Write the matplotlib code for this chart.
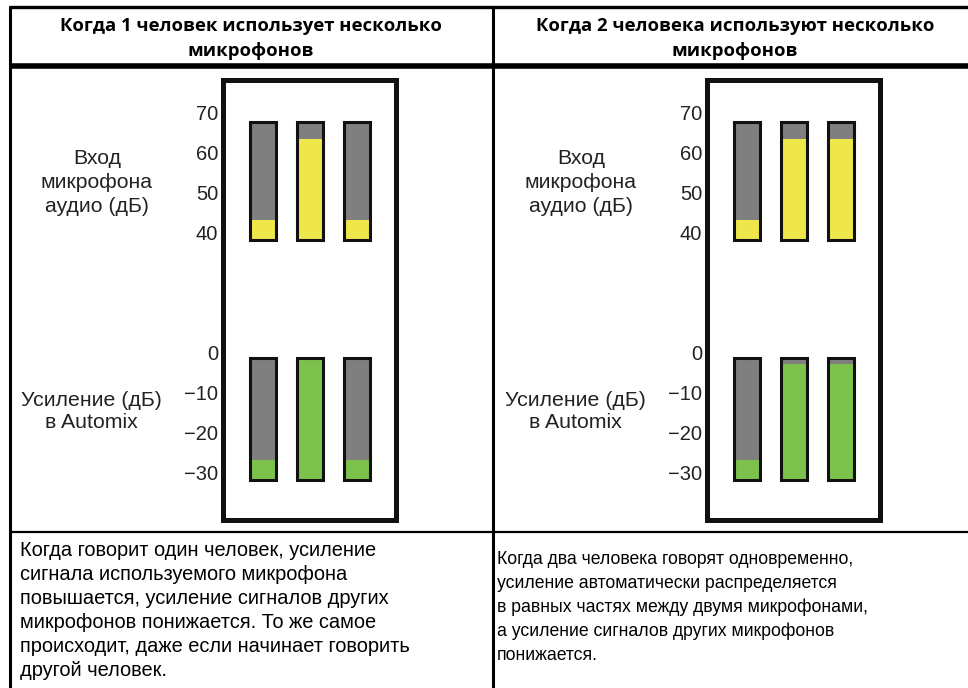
import matplotlib.pyplot as plt
from matplotlib.lines import Line2D
from matplotlib.patches import Rectangle

W, H = 968, 688

# текст таблицы
headers = ["Когда 1 человек использует несколько\nмикрофонов",
           "Когда 2 человека используют несколько\nмикрофонов"]
notes = [["Когда говорит один человек, усиление",
          "сигнала используемого микрофона",
          "повышается, усиление сигналов других",
          "микрофонов понижается. То же самое",
          "происходит, даже если начинает говорить",
          "другой человек."],
         ["Когда два человека говорят одновременно,",
          "усиление автоматически распределяется",
          "в равных частях между двумя микрофонами,",
          "а усиление сигналов других микрофонов",
          "понижается."]]
input_label = "Вход\nмикрофона\nаудио (дБ)"
gain_label = "Усиление (дБ)\nв Automix"

# шкалы индикаторов
input_ticks = [40, 50, 60, 70]
gain_ticks = [0, -10, -20, -30]
input_range = (38.1, 67.6)
gain_range = (-31.9, -1.6)

# уровни на трёх микрофонах
input_levels = [[43, 63.3, 43], [43, 63.3, 63.3]]
gain_levels = [[-27, 0, -27], [-27, -3, -3]]

GRAY = '#7f7f7f'
YELLOW = '#efe64b'
GREEN = '#7cc14b'
FONT = ['Liberation Sans', 'DejaVu Sans']

fig = plt.figure(figsize=(W / 100, H / 100), dpi=100)
fig.patch.set_facecolor('white')

# служебные оси во всю фигуру, координаты в пикселях
bg = fig.add_axes([0, 0, 1, 1])
bg.set_xlim(0, W)
bg.set_ylim(H, 0)
bg.axis('off')


def hline(y, x0, x1, lw):
    bg.add_line(Line2D([x0, x1], [y, y], color='black', lw=lw, solid_capstyle='butt'))


def vline(x, y0, y1, lw):
    bg.add_line(Line2D([x, x], [y0, y1], color='black', lw=lw, solid_capstyle='butt'))


# рамка таблицы
hline(7, 9, W, 2.4)
hline(65.5, 9, W, 4.0)
hline(532, 9, W, 1.6)
vline(10, 6, H, 2.2)
vline(493, 6, H, 2.2)


def pix_axes(x0, x1, y0, y1):
    return fig.add_axes([x0 / W, 1 - y1 / H, (x1 - x0) / W, (y1 - y0) / H])


def meter(ax, levels, rng, ticks, color, ylim):
    lo, hi = rng
    x = list(range(len(levels)))
    bw = 0.553
    ax.bar(x, [hi - lo] * len(x), bottom=lo, width=bw, color=GRAY, linewidth=0)
    ax.bar(x, [min(v, hi) - lo for v in levels], bottom=lo, width=bw,
           color=color, linewidth=0)
    ax.bar(x, [hi - lo] * len(x), bottom=lo, width=bw, fill=False,
           edgecolor='#111111', linewidth=2.2)
    ax.set_xlim(-0.777, 2.797)
    ax.set_ylim(*ylim)
    ax.set_yticks(ticks)
    ax.set_xticks([])
    ax.tick_params(axis='y', length=0, pad=5.5, labelsize=14.5)
    for lab in ax.get_yticklabels():
        lab.set_family(FONT)
        lab.set_color('#222222')
    for s in ax.spines.values():
        s.set_visible(False)
    ax.patch.set_alpha(0)


for i in range(2):
    dx = 484 * i
    cx = 251 + dx

    # заголовок столбца
    for j, line in enumerate(headers[i].split('\n')):
        bg.text(cx, 26 + 25 * j, line, ha='center', va='center', fontsize=13.3,
                fontweight='bold', family=['Open Sans', 'DejaVu Sans'])

    # рамка с индикаторами
    bg.add_patch(Rectangle((223 + dx, 80), 173, 439.5, fill=False,
                           edgecolor='#111111', lw=3.6))
    up = pix_axes(226 + dx, 394 + dx, 92, 252)
    meter(up, input_levels[i], input_range, input_ticks, YELLOW, (35, 75))
    dn = pix_axes(226 + dx, 394 + dx, 332, 492)
    meter(dn, gain_levels[i], gain_range, gain_ticks, GREEN, (-35, 5))

    # подписи слева
    for j, line in enumerate(input_label.split('\n')):
        bg.text(97 + dx, 159 + 24 * j, line, ha='center', va='center',
                fontsize=15.3, family=FONT, color='#222222')
    for j, line in enumerate(gain_label.split('\n')):
        bg.text(91 + dx, 400 + 23 * j, line, ha='center', va='center',
                fontsize=15.3, family=FONT, color='#222222')

    # пояснение
    y0 = 551 if i == 0 else 559
    size = 14.4 if i == 0 else 12.7
    for j, line in enumerate(notes[i]):
        bg.text(20 + 477 * i, y0 + 24 * j, line, ha='left', va='center',
                fontsize=size, family=FONT)

fig.savefig('out.png', dpi=100, facecolor='white')
